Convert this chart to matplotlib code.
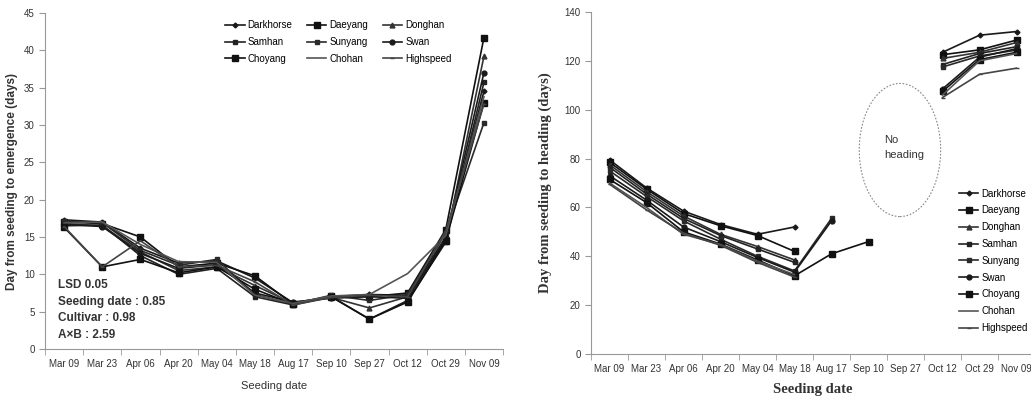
import numpy as np
import matplotlib
matplotlib.use("Agg")
import matplotlib.pyplot as plt
from matplotlib.patches import Ellipse

plt.rcParams['font.family'] = ['Liberation Sans', 'DejaVu Sans']

dates = ['Mar 09', 'Mar 23', 'Apr 06', 'Apr 20', 'May 04', 'May 18',
         'Aug 17', 'Sep 10', 'Sep 27', 'Oct 12', 'Oct 29', 'Nov 09']
cultivars = ['Darkhorse', 'Daeyang', 'Donghan', 'Samhan', 'Sunyang',
             'Swan', 'Choyang', 'Chohan', 'Highspeed']
markers = ['D', 's', '^', 's', 's', 'o', 's', '', '_']
msizes = [2.5, 4.5, 3.5, 3.5, 3.5, 3.5, 4, 0, 3]
colors = ['#1a1a1a', '#111111', '#333333', '#222222', '#2a2a2a',
          '#1a1a1a', '#111111', '#555555', '#444444']

# days from seeding to emergence (left panel)
emergence = {
    'Darkhorse': [17.3, 17.0, 13.5, 11.5, 11.8, 9.5, 6.2, 7.0, 7.3, 7.2, 15.0, 34.5],
    'Daeyang':   [17.0, 16.8, 15.0, 11.0, 11.5, 9.8, 6.0, 7.1, 7.0, 7.5, 16.0, 41.7],
    'Donghan':   [16.8, 16.5, 13.0, 10.5, 11.0, 8.5, 6.1, 6.9, 5.5, 7.0, 14.5, 39.2],
    'Samhan':    [16.5, 16.6, 12.5, 10.0, 10.8, 7.0, 5.9, 7.0, 4.0, 6.5, 14.3, 35.7],
    'Sunyang':   [17.1, 16.9, 13.2, 11.2, 12.0, 7.3, 6.0, 7.2, 6.5, 7.3, 15.5, 30.3],
    'Swan':      [16.7, 16.4, 12.8, 10.8, 11.3, 7.5, 6.3, 6.8, 7.0, 6.8, 14.8, 37.0],
    'Choyang':   [16.3, 11.0, 12.0, 10.2, 11.0, 8.0, 6.0, 7.0, 4.0, 6.3, 14.5, 33.0],
    'Chohan':    [16.9, 17.0, 14.0, 11.7, 11.6, 7.2, 6.1, 7.1, 7.3, 10.1, 15.2, 33.8],
    'Highspeed': [16.4, 11.0, 14.5, 11.0, 11.2, 9.0, 5.9, 6.9, 7.2, 7.0, 15.8, 32.8],
}

nan = np.nan
# days from seeding to heading (right panel), no heading for Sep 27
heading = {
    'Darkhorse': [79.5, 68.0, 58.5, 53.0, 49.0, 52.0, nan, nan, nan, 123.5, 130.5, 132.0],
    'Daeyang':   [78.5, 67.5, 57.5, 52.5, 48.5, 42.0, nan, nan, nan, 122.5, 124.5, 128.5],
    'Donghan':   [77.5, 66.5, 56.5, 49.0, 44.0, 38.5, nan, nan, nan, 121.0, 123.5, 127.5],
    'Samhan':    [76.5, 65.5, 55.5, 48.5, 43.0, 37.5, nan, nan, nan, 118.5, 123.0, 125.8],
    'Sunyang':   [75.0, 64.5, 54.5, 47.0, 40.0, 34.0, 55.5, nan, nan, 117.5, 122.0, 124.4],
    'Swan':      [73.0, 63.0, 52.0, 46.0, 39.5, 33.5, 54.5, nan, nan, 108.5, 121.5, 125.0],
    'Choyang':   [71.5, 62.0, 50.0, 45.0, 38.5, 32.0, 41.0, 46.0, nan, 107.5, 120.5, 123.5],
    'Chohan':    [70.0, 60.0, 49.0, 44.8, 38.0, 32.5, nan, nan, nan, 106.0, 120.0, 123.0],
    'Highspeed': [69.5, 59.0, 49.5, 44.5, 37.5, 31.5, nan, nan, nan, 105.0, 114.5, 117.0],
}

lsd_lines = ['LSD 0.05', 'Seeding date : 0.85', 'Cultivar : 0.98', 'A\u00d7B : 2.59']

W, H = 1031, 403
fig = plt.figure(figsize=(W / 100, H / 100), dpi=100)

ax1 = fig.add_axes([45 / W, 1 - 349 / H, 458 / W, 336 / H])
ax2 = fig.add_axes([591 / W, 1 - 354 / H, 444 / W, 342 / H])

x = np.arange(len(dates))


def style_axis(ax, ymax, ystep):
    ax.set_xlim(-0.5, len(dates) - 0.5)
    ax.set_ylim(0, ymax)
    ax.set_yticks(np.arange(0, ymax + 1, ystep))
    ax.set_xticks(x)
    ax.set_xticklabels(dates, fontsize=7, color='#333333')
    ax.set_xticks(np.arange(-0.5, len(dates)), minor=True)
    ax.tick_params(axis='x', which='major', length=0, pad=7)
    ax.tick_params(axis='x', which='minor', length=4, color='#999999')
    ax.tick_params(axis='y', length=4, color='#999999', labelsize=7,
                   labelcolor='#333333')
    for side in ('top', 'right'):
        ax.spines[side].set_visible(False)
    for side in ('left', 'bottom'):
        ax.spines[side].set_color('#999999')


lines = []
for i, c in enumerate(cultivars):
    h, = ax1.plot(x, emergence[c], color=colors[i], lw=1.2,
                  marker=markers[i] or None, ms=msizes[i], label=c)
    lines.append(h)
    ax2.plot(x, heading[c], color=colors[i], lw=1.2, marker=markers[i] or None,
             ms=msizes[i], label=c)

style_axis(ax1, 45, 5)
style_axis(ax2, 140, 20)

ax1.set_ylabel('Day from seeding to emergence (days)', fontsize=8.5,
               fontweight='bold', color='#333333', labelpad=4)
ax1.set_xlabel('Seeding date', fontsize=8, color='#333333', labelpad=9)
for k, s in enumerate(lsd_lines):
    ax1.text(-0.15, 8.6 - 2.25 * k, s, fontsize=8.5, fontweight='bold',
             color='#333333', va='center', ha='left')

# legend filled row by row, like the original
order = [0, 3, 6, 1, 4, 7, 2, 5, 8]
ax1.legend([lines[j] for j in order], [cultivars[j] for j in order],
           ncol=3, loc='upper left', bbox_to_anchor=(0.385, 0.99), frameon=False,
           fontsize=7, handlelength=2.0, handletextpad=0.3,
           columnspacing=1.5, labelspacing=0.7, borderaxespad=0)

ax2.set_ylabel('Day from seeding to heading (days)', fontsize=10.5,
               fontweight='bold', family='Liberation Serif', color='#333333',
               labelpad=9)
ax2.set_xlabel('Seeding date', fontsize=10.5, fontweight='bold',
               family='Liberation Serif', color='#333333', labelpad=7)

ax2.add_patch(Ellipse((7.85, 83.5), 2.2, 54.5, fill=False, ls=(0, (1.5, 1.5)),
                      lw=0.8, edgecolor='#888888'))
ax2.text(7.42, 84.5, 'No\nheading', fontsize=8, color='#333333',
         va='center', ha='left', linespacing=1.6)

ax2.legend(loc='upper left', bbox_to_anchor=(0.82, 0.495), frameon=False,
           fontsize=7, handlelength=2.0, handletextpad=0.3,
           labelspacing=0.7, borderaxespad=0)

fig.savefig('out.png', dpi=100)
